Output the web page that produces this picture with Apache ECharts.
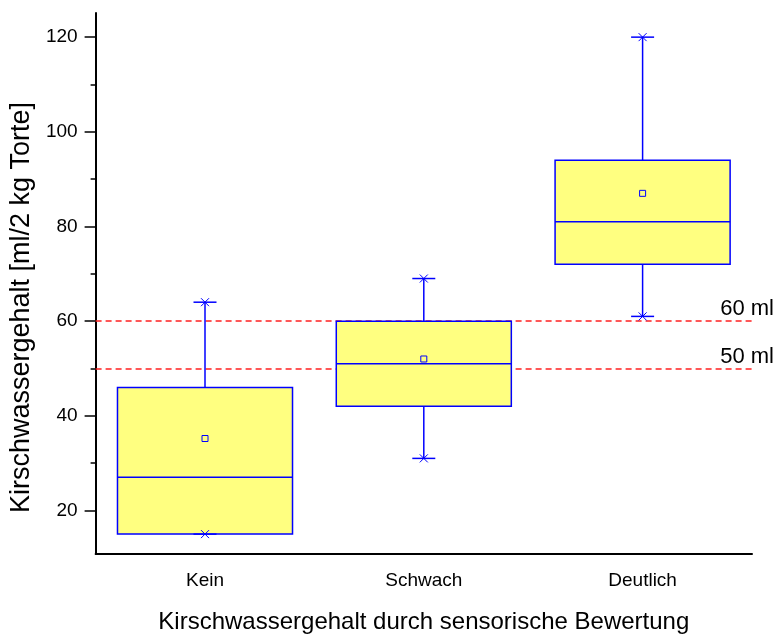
<!DOCTYPE html>
<html>
<head>
<meta charset="utf-8">
<script src="https://cdn.jsdelivr.net/npm/echarts@6/dist/echarts.min.js"></script>
<style>html,body{margin:0;padding:0;background:#fff;}#chart{width:776px;height:639px;}</style>
</head>
<body>
<div id="chart"></div>
<script>
const categories = ['Kein', 'Schwach', 'Deutlich'];
const whiskerMin = [15, 31, 61];
const quartile1 = [15, 42, 72];
const medians = [27, 51, 81];
const quartile3 = [46, 60, 94];
const whiskerMax = [64, 69, 120];
const means = [35.2, 52, 87];
const majorTicks = [20, 40, 60, 80, 100, 120];
const minorTicks = [30, 50, 70, 90, 110];
const refLines = [60, 50];
const refLabels = ['60 ml', '50 ml'];
const xTitle = 'Kirschwassergehalt durch sensorische Bewertung';
const yTitle = 'Kirschwassergehalt [ml/2 kg Torte]';

const FONT = "'Liberation Sans', Arial, sans-serif";
const BLUE = '#0000ff';

const boxData = categories.map((c, i) => [i, whiskerMin[i], quartile1[i], medians[i], quartile3[i], whiskerMax[i], means[i]]);

function renderItem(params, api) {
  const i = api.value(0);
  const pMin = api.coord([i, api.value(1)]);
  const pQ1 = api.coord([i, api.value(2)]);
  const pMed = api.coord([i, api.value(3)]);
  const pQ3 = api.coord([i, api.value(4)]);
  const pMax = api.coord([i, api.value(5)]);
  const pMean = api.coord([i, api.value(6)]);
  const cx = pMed[0];
  const bw = api.size([1, 0])[0] * 0.8;
  const half = bw / 2;
  const cap = 11.5;
  const m = 4;
  const ls = { stroke: BLUE, lineWidth: 1.5, fill: null };
  const children = [];
  children.push({ type: 'line', shape: { x1: cx, y1: pQ3[1], x2: cx, y2: pMax[1] }, style: ls });
  children.push({ type: 'line', shape: { x1: cx, y1: pQ1[1], x2: cx, y2: pMin[1] }, style: ls });
  children.push({ type: 'rect', shape: { x: cx - half, y: pQ3[1], width: bw, height: pQ1[1] - pQ3[1] }, style: { fill: '#ffff80', stroke: BLUE, lineWidth: 1.5 } });
  children.push({ type: 'line', shape: { x1: cx - half, y1: pMed[1], x2: cx + half, y2: pMed[1] }, style: ls });
  [pMax, pMin].forEach(p => {
    children.push({ type: 'line', shape: { x1: cx - cap, y1: p[1], x2: cx + cap, y2: p[1] }, style: ls });
    children.push({ type: 'line', shape: { x1: cx - m, y1: p[1] - m, x2: cx + m, y2: p[1] + m }, style: { stroke: BLUE, lineWidth: 1 } });
    children.push({ type: 'line', shape: { x1: cx - m, y1: p[1] + m, x2: cx + m, y2: p[1] - m }, style: { stroke: BLUE, lineWidth: 1 } });
  });
  children.push({ type: 'rect', shape: { x: pMean[0] - 3, y: pMean[1] - 3, width: 6, height: 6 }, style: { fill: null, stroke: BLUE, lineWidth: 1 } });
  return { type: 'group', children: children };
}

const chart = echarts.init(document.getElementById('chart'), null, { renderer: 'canvas' });
chart.setOption({
  animation: false,
  backgroundColor: '#fff',
  textStyle: { fontFamily: FONT, color: '#000' },
  grid: { left: 95, right: 24, top: 13, bottom: 80 },
  xAxis: {
    type: 'category',
    data: categories,
    boundaryGap: true,
    axisLine: { lineStyle: { color: '#000', width: 2 } },
    axisTick: { alignWithLabel: true, length: 10, lineStyle: { color: '#000', width: 1.5 } },
    axisLabel: { fontSize: 19, color: '#000', margin: 17, fontFamily: FONT },
    splitLine: { show: false },
    name: xTitle,
    nameLocation: 'middle',
    nameGap: 56,
    nameTextStyle: { fontSize: 24, color: '#000', fontFamily: FONT }
  },
  yAxis: [{
    type: 'value',
    min: 10.8,
    max: 125.1,
    axisLine: { show: true, lineStyle: { color: '#000', width: 2 } },
    axisTick: { show: true, length: 11, customValues: majorTicks, lineStyle: { color: '#000', width: 1.5 } },
    axisLabel: { fontSize: 19, color: '#000', margin: 18, customValues: majorTicks, fontFamily: FONT },
    splitLine: { show: false },
    name: yTitle,
    nameLocation: 'middle',
    nameGap: 60,
    nameTextStyle: { fontSize: 27, color: '#000', fontFamily: FONT, padding: [0, 48, 0, 0] }
  }, {
    type: 'value',
    position: 'left',
    min: 10.8,
    max: 125.1,
    axisLine: { show: false },
    axisTick: { show: true, length: 5, customValues: minorTicks, lineStyle: { color: '#000', width: 1.5 } },
    axisLabel: { show: false },
    splitLine: { show: false }
  }],
  series: [{
    type: 'line',
    data: [],
    silent: true,
    markLine: {
      z: 1,
      silent: true,
      symbol: ['none', 'none'],
      lineStyle: { color: '#ff2020', width: 1.5, type: [6, 4] },
      label: {
        show: true,
        position: 'insideEndTop',
        distance: [-22, 1],
        fontSize: 22,
        color: '#000',
        fontFamily: FONT,
        formatter: p => refLabels[refLines.indexOf(p.value)]
      },
      data: refLines.map(v => ({ yAxis: v }))
    }
  }, {
    type: 'custom',
    z: 3,
    renderItem: renderItem,
    encode: { x: 0, y: [1, 2, 3, 4, 5, 6] },
    data: boxData
  }]
});
</script>
</body>
</html>
